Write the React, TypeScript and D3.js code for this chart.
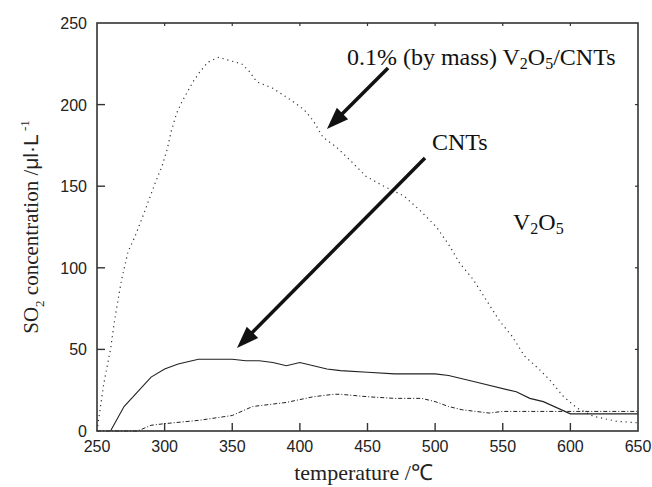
import React from 'react'
import { scaleLinear, line } from 'd3'

// temperature (°C) / SO2 concentration (μl·L⁻¹)
const cntsT = [260, 270, 280, 290, 300, 310, 325, 350, 360, 370, 380, 390, 400, 410, 420, 430, 450, 470, 500, 510, 530, 560, 570, 580, 600, 650]
const cntsC = [0, 15, 24, 33, 38, 41, 44, 44, 43, 43, 42, 40, 42, 40, 38, 37, 36, 35, 35, 34, 30, 24, 20, 18, 10.5, 10.5]

const v2o5T = [250, 280, 290, 300, 325, 350, 365, 390, 410, 425, 430, 450, 470, 490, 500, 510, 520, 540, 550, 650]
const v2o5C = [0, 0, 3.5, 4.5, 6.5, 9.5, 15, 17.5, 21, 22.5, 22.5, 21, 20, 20, 18, 15, 13, 11, 12, 12]

const mixT = [250, 255, 260, 263, 268, 273, 278, 285, 293, 298, 302, 305, 309, 313, 317, 321, 326, 332, 340, 348, 357, 363, 368, 380, 393, 403, 410, 417, 427, 437, 449, 462, 477, 489, 501, 511, 518, 528, 538, 548, 557, 566, 578, 585, 595, 605, 617, 634, 650]
const mixC = [0, 29, 50, 68, 92, 110, 119, 134, 152, 162, 173, 184, 195, 202, 208, 214, 220, 226, 229, 227, 225, 220, 214, 210, 203, 197, 190, 180, 174, 166, 156, 150, 144, 135, 125, 113, 103, 93, 80, 67, 58, 46, 37, 31, 21, 14, 9, 6, 5]

const xTicks = [250, 300, 350, 400, 450, 500, 550, 600, 650]
const yTicks = [0, 50, 100, 150, 200, 250]

const W = 652
const H = 487
const m = { left: 97, right: 14, top: 23, bottom: 56 }

const x = scaleLinear().domain([250, 650]).range([m.left, W - m.right])
const y = scaleLinear().domain([0, 250]).range([H - m.bottom, m.top])

const mk = (ts: number[], cs: number[]) =>
  line<number>()
    .x(t => x(t))
    .y((_, i) => y(cs[i]))(ts) || ''

const ink = '#222'

const Arrow = ({ from, to }: { from: [number, number]; to: [number, number] }) => {
  const x1 = x(from[0]), y1 = y(from[1])
  const x2 = x(to[0]), y2 = y(to[1])
  const a = Math.atan2(y2 - y1, x2 - x1)
  const len = 22, hw = 8
  const bx = x2 - len * Math.cos(a), by = y2 - len * Math.sin(a)
  const px = -Math.sin(a) * hw, py = Math.cos(a) * hw
  return (
    <g>
      <line x1={x1} y1={y1} x2={bx + 2 * Math.cos(a)} y2={by + 2 * Math.sin(a)} stroke="#111" strokeWidth={3.5} />
      <polygon points={`${x2},${y2} ${bx + px},${by + py} ${bx - px},${by - py}`} fill="#111" />
    </g>
  )
}

const App = () => {
  const x0 = x(250), x1 = x(650), y0 = y(0), y1 = y(250)
  const serif = '"Liberation Serif", "Times New Roman", serif'
  const sans = '"Liberation Sans", Arial, sans-serif'
  return (
    <svg width={W} height={H} style={{ position: 'absolute', left: 0, top: 0, background: '#fff' }}>
      <rect width={W} height={H} fill="#fff" />
      {/* series */}
      <path d={mk(mixT, mixC)} fill="none" stroke="#333" strokeWidth={1.2} strokeDasharray="1.2 3.8" />
      <path d={mk(cntsT, cntsC)} fill="none" stroke={ink} strokeWidth={1.1} />
      <path d={mk(v2o5T, v2o5C)} fill="none" stroke={ink} strokeWidth={1} strokeDasharray="4 2 1 2" />

      {/* frame */}
      <rect x={x0} y={y1} width={x1 - x0} height={y0 - y1} fill="none" stroke="#333" strokeWidth={1.6} />
      {xTicks.slice(1, -1).map(t => (
        <g key={'xt' + t}>
          <line x1={x(t)} x2={x(t)} y1={y0} y2={y0 - 8} stroke="#333" strokeWidth={1.4} />
          <line x1={x(t)} x2={x(t)} y1={y1} y2={y1 + 3} stroke="#333" strokeWidth={1.2} />
        </g>
      ))}
      {yTicks.slice(1, -1).map(t => (
        <g key={'yt' + t}>
          <line x1={x0} x2={x0 + 8} y1={y(t)} y2={y(t)} stroke="#333" strokeWidth={1.4} />
          <line x1={x1} x2={x1 - 3} y1={y(t)} y2={y(t)} stroke="#333" strokeWidth={1.2} />
        </g>
      ))}
      {xTicks.map(t => (
        <text key={'xl' + t} x={x(t)} y={y0 + 21} textAnchor="middle" fontFamily={sans} fontSize={16} fill="#222">{t}</text>
      ))}
      {yTicks.map(t => (
        <text key={'yl' + t} x={x0 - 10} y={y(t) + 6} textAnchor="end" fontFamily={sans} fontSize={16} fill="#222">{t}</text>
      ))}

      {/* axis titles */}
      <text x={(x0 + x1) / 2 - 4} y={480} textAnchor="middle" fontFamily={serif} fontSize={22} fill="#222">temperature /℃</text>
      <text transform={`translate(38, ${(y0 + y1) / 2}) rotate(-90)`} textAnchor="middle" fontFamily={serif} fontSize={21} fill="#222">
        SO<tspan fontSize={13} dy={6}>2</tspan><tspan dy={-6}> concentration /</tspan><tspan fontFamily={sans}>μl·L</tspan><tspan fontSize={13} dy={-9}> -1</tspan>
      </text>

      {/* annotations */}
      <text x={x(434.8)} y={y(224.3)} fontFamily={serif} fontSize={24} fill="#111">
        0.1% (by mass) V<tspan fontSize={16} dy={4}>2</tspan><tspan dy={-4}>O</tspan><tspan fontSize={16} dy={4}>5</tspan><tspan dy={-4}>/CNTs</tspan>
      </text>
      <text x={x(497.7)} y={y(172.2)} fontFamily={serif} fontSize={24} fill="#111">CNTs</text>
      <text x={x(557.6)} y={y(123.2)} fontFamily={serif} fontSize={24} fill="#111">
        V<tspan fontSize={16} dy={4}>2</tspan><tspan dy={-4}>O</tspan><tspan fontSize={16} dy={4}>5</tspan>
      </text>
      <Arrow from={[465.2, 222.4]} to={[420, 185]} />
      <Arrow from={[492.5, 167.3]} to={[353.5, 50.9]} />
    </svg>
  )
}

export default App
